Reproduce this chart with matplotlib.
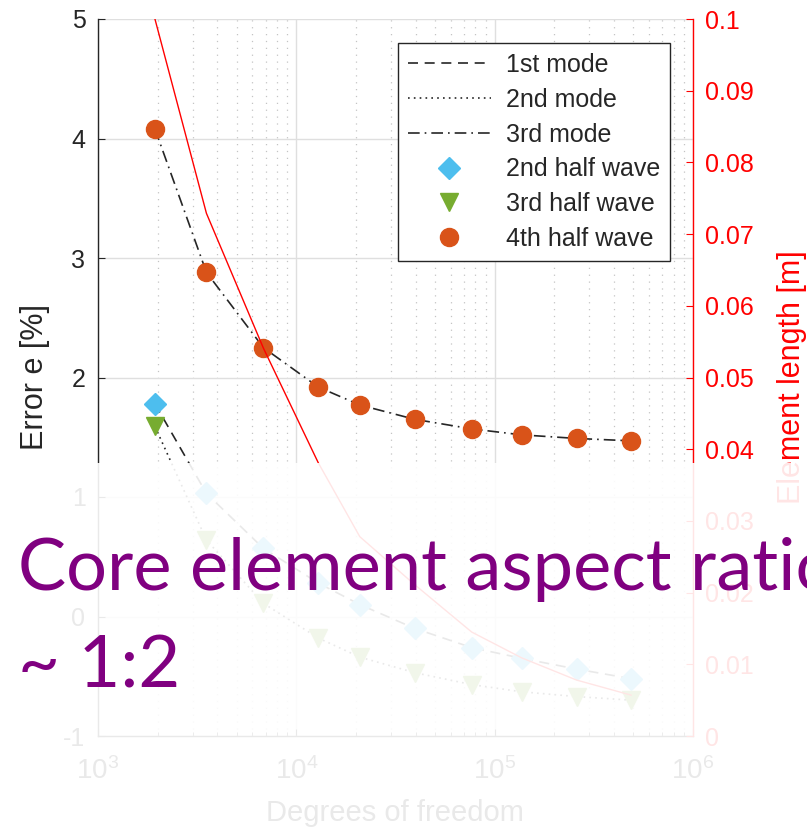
import matplotlib
matplotlib.use('Agg')
import matplotlib.pyplot as plt
from matplotlib.patches import Rectangle
from matplotlib.lines import Line2D
from matplotlib.ticker import LogLocator, NullFormatter, FixedLocator

plt.rcParams['font.family'] = ['Liberation Sans', 'DejaVu Sans']
plt.rcParams['axes.unicode_minus'] = False

# Mesh refinement study: degrees of freedom vs. error and element length
dof = [1937, 3521, 6822, 12904, 20890, 39540, 76580, 136800, 258900, 487200]
err_mode1 = [1.78, 1.03, 0.57, 0.28, 0.10, -0.10, -0.26, -0.35, -0.44, -0.52]
err_mode2 = [1.59, 0.64, 0.11, -0.18, -0.34, -0.47, -0.57, -0.63, -0.67, -0.70]
err_mode3 = [4.08, 2.88, 2.25, 1.92, 1.77, 1.65, 1.57, 1.52, 1.49, 1.47]
elem_len = [0.1, 0.0729, 0.0541, 0.0381, 0.0278, 0.0211, 0.0145, 0.0109, 0.0078, 0.0057]

left_ticks = [-1, 0, 1, 2, 3, 4, 5]
right_ticks = [0, 0.01, 0.02, 0.03, 0.04, 0.05, 0.06, 0.07, 0.08, 0.09, 0.1]
right_ticklabels = ['0', '0.01', '0.02', '0.03', '0.04', '0.05', '0.06',
                    '0.07', '0.08', '0.09', '0.1']

W, H = 807, 834
TXT = '#262626'
RED = '#ff0000'
C_BLUE = '#4dbeee'
C_GREEN = '#77ac30'
C_ORANGE = '#d95319'

fig = plt.figure(figsize=(W / 100, H / 100), dpi=100)
ax = fig.add_axes([98 / W, (H - 736) / H, (693 - 98) / W, (736 - 19) / H])
ax2 = ax.twinx()

ax.set_xscale('log')
ax.set_xlim(1e3, 1e6)
ax.set_ylim(-1, 5)
ax.yaxis.set_major_locator(FixedLocator(left_ticks))
ax.xaxis.set_minor_locator(LogLocator(base=10, subs=range(2, 10)))
ax.xaxis.set_minor_formatter(NullFormatter())
ax.set_axisbelow(True)
ax.grid(True, which='major', color='#dfdfdf', lw=1.0, ls='-')
ax.grid(True, which='minor', axis='x', color='#c4c4c4', lw=0.9, ls=(0, (1, 4.5)))

for s in ['top', 'right']:
    ax.spines[s].set_visible(False)
for s in ['left', 'bottom']:
    ax.spines[s].set_color(TXT)
    ax.spines[s].set_linewidth(1.0)
ax.tick_params(axis='both', which='major', direction='in', length=5,
               labelsize=18, colors=TXT, pad=9)
ax.tick_params(axis='x', which='major', pad=15, labelsize=20)
ax.tick_params(axis='x', which='minor', direction='in', length=3, colors=TXT)

LW = 1.2
ax.plot(dof, err_mode1, color=TXT, lw=LW, ls=(0, (6, 4)))
ax.plot(dof, err_mode2, color=TXT, lw=LW, ls=(0, (1, 2.5)))
ax.plot(dof, err_mode3, color=TXT, lw=LW, ls=(0, (7, 3, 1, 3)))
ax.plot(dof, err_mode1, ls='none', marker='D', ms=11, color=C_BLUE, mec=C_BLUE)
ax.plot(dof, err_mode2, ls='none', marker='v', ms=13, color=C_GREEN, mec=C_GREEN)
ax.plot(dof, err_mode3, ls='none', marker='o', ms=13, color=C_ORANGE, mec=C_ORANGE)

ax2.plot(dof, elem_len, color=RED, lw=1.0)
ax2.set_ylim(0, 0.1)
ax2.yaxis.set_major_locator(FixedLocator(right_ticks))
ax2.set_yticklabels(right_ticklabels)
for s in ['top', 'left', 'bottom']:
    ax2.spines[s].set_visible(False)
ax2.spines['right'].set_color(RED)
ax2.spines['right'].set_linewidth(1.0)
ax2.tick_params(axis='y', direction='in', length=5, labelsize=18,
                colors=RED, pad=9)

fig.text(35 / W, (H - 377) / H, 'Error e [%]', rotation=90, ha='center',
         va='center', fontsize=22, color=TXT)
fig.text(792 / W, (H - 377) / H, 'Element length [m]', rotation=90,
         ha='center', va='center', fontsize=22, color=RED)
fig.text(395 / W, (H - 813) / H, 'Degrees of freedom', ha='center',
         va='center', fontsize=21, color=TXT)

handles = [
    Line2D([], [], color=TXT, lw=LW, ls=(0, (6, 4))),
    Line2D([], [], color=TXT, lw=LW, ls=(0, (1, 2.5))),
    Line2D([], [], color=TXT, lw=LW, ls=(0, (7, 3, 1, 3))),
    Line2D([], [], ls='none', marker='D', ms=11, color=C_BLUE),
    Line2D([], [], ls='none', marker='v', ms=13, color=C_GREEN),
    Line2D([], [], ls='none', marker='o', ms=13, color=C_ORANGE),
]
labels = ['1st mode', '2nd mode', '3rd mode',
          '2nd half wave', '3rd half wave', '4th half wave']
leg = ax2.legend(handles, labels, loc='upper left',
                 bbox_to_anchor=(398 / W, (H - 43) / H),
                 bbox_transform=fig.transFigure, fontsize=18,
                 frameon=True, fancybox=False, framealpha=1,
                 edgecolor=TXT, borderaxespad=0, borderpad=0.4,
                 handlelength=3.3, handletextpad=0.6, labelspacing=0.43)
leg.get_frame().set_linewidth(1.0)
for t in leg.get_texts():
    t.set_color(TXT)

# translucent white band over the lower part of the figure
fig.add_artist(Rectangle((0, 0), 1, (H - 463) / H, transform=fig.transFigure,
                         facecolor='white', edgecolor='none', alpha=0.9,
                         zorder=10))

PURPLE = '#800080'
fig.text(18 / W, (H - 590) / H, 'Core element aspect ratio', ha='left',
         va='baseline', fontsize=52, color=PURPLE, family='Lato', zorder=11)
fig.text(18 / W, (H - 687) / H, '~ 1:2', ha='left', va='baseline',
         fontsize=52, color=PURPLE, family='Lato', zorder=11)

fig.savefig('out.png', dpi=100)
